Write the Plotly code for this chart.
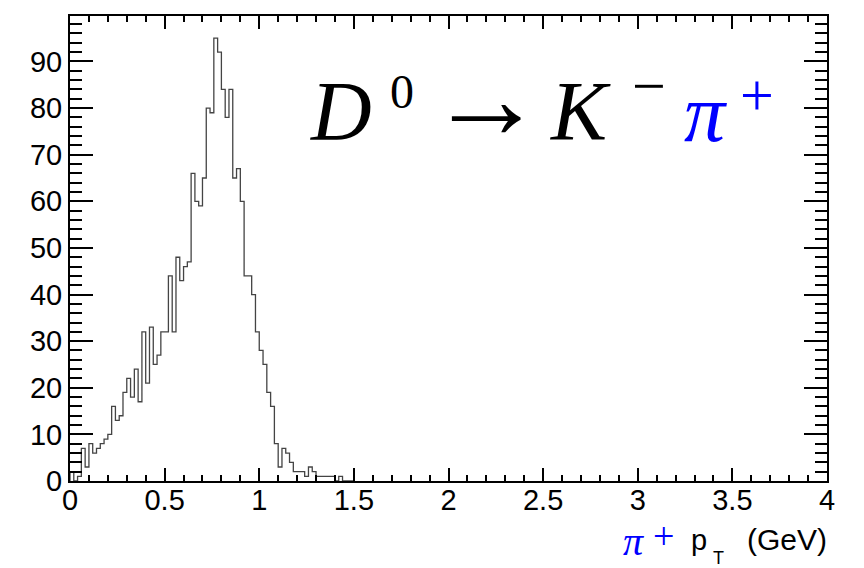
import plotly.graph_objects as go

# ---- data ----
bin_low = 0.0
bin_width = 0.02
counts = [2, 0, 1, 7, 3, 8, 6, 7, 8, 9,
          10, 16, 13, 14, 19, 22, 18, 24, 17, 32,
          21, 33, 25, 27, 32, 32, 44, 32, 48, 43,
          46, 47, 66, 60, 59, 65, 80, 79, 95, 92,
          84, 78, 84, 65, 67, 60, 44, 44, 40, 32,
          28, 25, 19, 16, 8, 3, 7, 6, 4, 2,
          2, 2, 1, 3, 2, 1, 1, 1, 1, 1,
          0, 1, 0, 0, 0]

x_tick_vals = [0, 0.5, 1, 1.5, 2, 2.5, 3, 3.5, 4]
x_tick_text = ["0", "0.5", "1", "1.5", "2", "2.5", "3", "3.5", "4"]
y_tick_vals = [0, 10, 20, 30, 40, 50, 60, 70, 80, 90]
y_tick_text = ["0", "10", "20", "30", "40", "50", "60", "70", "80", "90"]

x_range = [0, 4]
y_range = [0, 99.75]

# ---- build step outline ----
edges = [bin_low + i * bin_width for i in range(len(counts) + 1)]
xs = [edges[0]] + edges
ys = [0] + counts + [counts[-1]]

fig = go.Figure()
fig.add_trace(go.Scatter(
    x=xs, y=ys, mode="lines", line_shape="hv",
    line=dict(color="#444444", width=1.3),
    hoverinfo="skip", showlegend=False,
))

SANS = "Liberation Sans, Arial, Helvetica, sans-serif"
SERIF = "Liberation Serif, Times New Roman, serif"
tickfont = dict(family=SANS, size=29, color="black")

fig.update_xaxes(
    range=x_range, tickmode="array", tickvals=x_tick_vals, ticktext=x_tick_text,
    ticks="inside", ticklen=13, tickwidth=1.5, tickcolor="black",
    showline=True, linecolor="black", linewidth=2, mirror="allticks",
    showgrid=False, zeroline=False, tickfont=tickfont, ticklabelstandoff=-8,
    minor=dict(tick0=0, dtick=0.1, ticks="inside", ticklen=6, tickwidth=1.5,
               tickcolor="black", showgrid=False),
)
fig.update_yaxes(
    range=y_range, tickmode="array", tickvals=y_tick_vals, ticktext=y_tick_text,
    ticks="inside", ticklen=23, tickwidth=1.5, tickcolor="black",
    showline=True, linecolor="black", linewidth=2, mirror="allticks",
    showgrid=False, zeroline=False, tickfont=tickfont,
    minor=dict(tick0=0, dtick=2, ticks="inside", ticklen=12, tickwidth=1.5,
               tickcolor="black", showgrid=False),
)

# plot frame in screenshot pixels: x 70..827, y 14..481
def px(x):
    return (x - 70) / 757.0

def py(y):
    return (481 - y) / 467.0

def label(text, x, y, size, family, color="black", xanchor="left"):
    fig.add_annotation(
        xref="paper", yref="paper", x=px(x), y=py(y),
        xanchor=xanchor, yanchor="middle", text=text, showarrow=False,
        font=dict(family=family, size=size, color=color),
    )

# decay label  D0 -> K- pi+
label("<i>D</i>", 308, 110, 84, SERIF)
label("0", 388, 90, 48, SERIF)
label("→", 426, 97, 116, SERIF)
label("<i>K</i>", 548, 110, 84, SERIF)
label("−", 630, 84, 60, SERIF)
label("<i>π</i>", 682, 112, 82, SERIF, color="blue")
label("+", 738, 93, 60, SERIF, color="blue")

# x-axis title  pi+ pT (GeV)
label("<i>π</i>", 621, 542, 40, SERIF, color="blue")
label("+", 651, 536, 38, SERIF, color="blue")
label("p", 689, 540, 29, SANS)
label("T", 711, 558, 18, SANS)
label("(GeV)", 829, 540, 30, SANS, xanchor="right")

fig.update_layout(
    width=864, height=568,
    margin=dict(l=62, r=45, t=6, b=95),
    plot_bgcolor="white", paper_bgcolor="white",
    showlegend=False,
)

fig.write_html("out.html")
